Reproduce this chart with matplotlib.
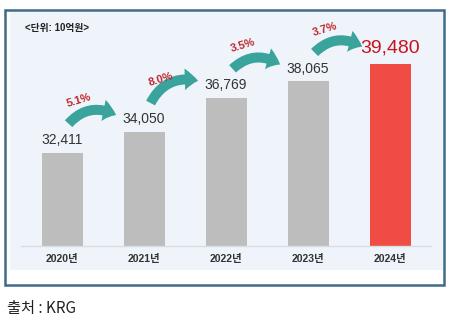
import matplotlib
matplotlib.use("Agg")
import matplotlib.pyplot as plt
from matplotlib.patches import Rectangle, FancyArrowPatch

# Data (unit: 10억원)
years = ['2020년', '2021년', '2022년', '2023년', '2024년']
values = [32411, 34050, 36769, 38065, 39480]
growth = ['5.1%', '8.0%', '3.5%', '3.7%']

plt.rcParams['font.family'] = ['Liberation Sans', 'Noto Sans CJK KR', 'DejaVu Sans']

W, H = 452, 322
fig = plt.figure(figsize=(W / 100, H / 100), dpi=100)


def px_box(x0, y0, x1, y1):
    # pixel box (top-left origin) -> figure fraction (left, bottom, width, height)
    return x0 / W, 1 - y1 / H, (x1 - x0) / W, (y1 - y0) / H


# outer frame and light blue panel
l, b, w, h = px_box(10, 12, 443, 270)
fig.add_artist(Rectangle((l, b), w, h, transform=fig.transFigure,
                         facecolor='#eef4fa', edgecolor='none', zorder=0))
l, b, w, h = px_box(5, 10, 444, 285)
fig.add_artist(Rectangle((l, b), w, h, transform=fig.transFigure,
                         facecolor='none', edgecolor='#3f6a88', lw=1.8, zorder=1))

ax = fig.add_axes(px_box(21, 246 - 226.7, 431, 246))
ax.set_facecolor('none')
x = list(range(len(years)))
colors = ['#bdbdbd'] * (len(years) - 1) + ['#f04c45']
ax.bar(x, values, width=0.5, color=colors, bottom=0, zorder=2)
ax.set_ylim(25000, 43000)
ax.set_xlim(-0.5, len(years) - 0.5)

for s in ['top', 'right', 'left']:
    ax.spines[s].set_visible(False)
ax.spines['bottom'].set_color('#d8dde3')
ax.spines['bottom'].set_linewidth(1)
ax.set_yticks([])
ax.set_xticks(x)
ax.set_xticklabels(years, fontsize=7.5, fontweight='bold', color='#333333')
ax.tick_params(axis='x', length=0, pad=6)

# value labels
for i, v in enumerate(values):
    last = i == len(values) - 1
    ax.annotate(f'{v:,}', (i, v), xytext=(0, 5 if last else 4),
                textcoords='offset points', ha='center', va='bottom',
                fontsize=14 if last else 10,
                color='#c8141e' if last else '#333333', zorder=4)

# growth arrows between bars
for i, g in enumerate(growth):
    tail = (i + 0.08, values[i] + 2300)
    tip = (i + 0.66, values[i + 1] + 1350)
    arrow = FancyArrowPatch(tail, tip, transform=ax.transData,
                            arrowstyle='simple,head_width=1.3,head_length=0.8,tail_width=0.6',
                            mutation_scale=12, connectionstyle='arc3,rad=-0.38',
                            color='#39a39c', lw=0, shrinkA=0, shrinkB=0, zorder=3)
    ax.add_patch(arrow)
    ax.text(i + 0.21, values[i] + 4150, g, ha='center', va='center',
            rotation=17, fontsize=8, fontweight='bold', color='#c0282d', zorder=4)

fig.text(25 / W, 1 - 28 / H, '<단위: 10억원>', ha='left', va='center',
         fontsize=7, fontweight='bold', color='#222222')
fig.text(7 / W, 1 - 308 / H, '출처 : KRG', ha='left', va='center',
         fontsize=11, color='#222222', family=['Noto Sans CJK KR', 'DejaVu Sans'])

fig.savefig('out.png', dpi=100)
